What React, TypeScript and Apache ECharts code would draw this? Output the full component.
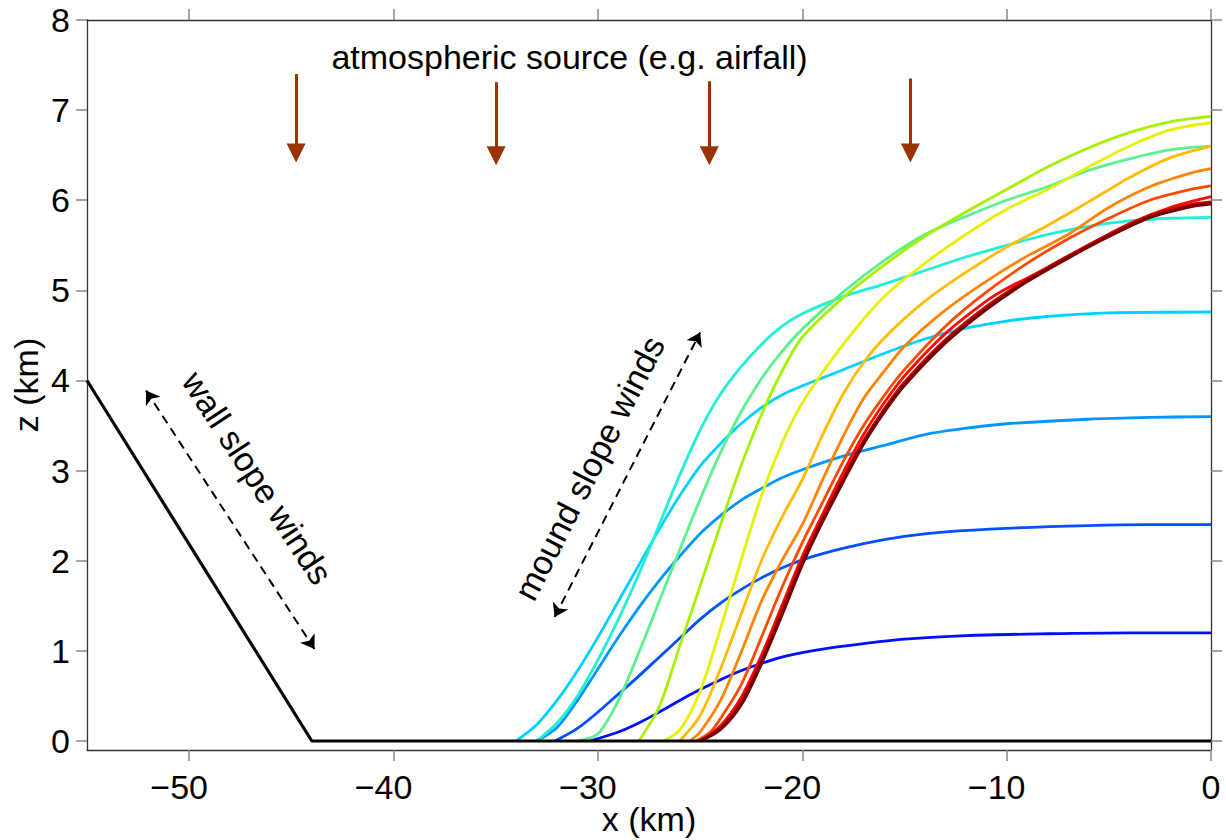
import React, { useEffect, useRef } from 'react';
import * as echarts from 'echarts';

const FONT = '"Liberation Sans", Arial, Helvetica, sans-serif';

// Axis ticks
const xTicks = [-50, -40, -30, -20, -10, 0];
const yTicks = [0, 1, 2, 3, 4, 5, 6, 7, 8];

// Terrain (t = 0): crater wall and floor
const terrain = [[-55, 4], [-44, 0], [0, 0]];

// Deposit profiles at successive times (x km, z km)
const c01 = [[-30.4, 0], [-29, 0.1], [-28, 0.2], [-27, 0.32], [-26, 0.45], [-25, 0.57], [-24, 0.68], [-23, 0.78], [-22, 0.86], [-21, 0.93], [-20, 0.98], [-19, 1.02], [-17, 1.08], [-15, 1.13], [-12, 1.17], [-8, 1.19], [-4, 1.2], [0, 1.2]];
const c02 = [[-32.1, 0], [-31, 0.14], [-30, 0.32], [-29, 0.52], [-28, 0.72], [-27, 0.93], [-26, 1.14], [-25, 1.35], [-24, 1.53], [-23, 1.68], [-22, 1.81], [-21, 1.92], [-20, 2.01], [-19, 2.08], [-17, 2.19], [-15, 2.27], [-13, 2.32], [-10, 2.36], [-6, 2.39], [-3, 2.4], [0, 2.4]];
const c03 = [[-33, 0], [-32, 0.15], [-31, 0.45], [-30, 0.8], [-29, 1.15], [-28, 1.48], [-27, 1.78], [-26, 2.05], [-25, 2.3], [-24, 2.5], [-23, 2.67], [-22, 2.8], [-21, 2.92], [-20, 3.01], [-18, 3.16], [-16, 3.28], [-14, 3.4], [-12, 3.47], [-10, 3.52], [-6, 3.57], [-3, 3.59], [0, 3.6]];
const c04 = [[-34, 0], [-33, 0.18], [-32, 0.45], [-31, 0.78], [-30, 1.15], [-29, 1.55], [-28, 1.95], [-27, 2.35], [-26, 2.72], [-25, 3.05], [-24, 3.3], [-23, 3.52], [-22, 3.7], [-21, 3.84], [-20, 3.94], [-18, 4.12], [-16, 4.3], [-14, 4.46], [-12, 4.58], [-10, 4.66], [-8, 4.71], [-5, 4.75], [0, 4.76]];
const c05 = [[-33, 0], [-32, 0.2], [-31, 0.5], [-30, 0.9], [-29, 1.35], [-28, 1.85], [-27, 2.4], [-26, 2.95], [-25, 3.45], [-24, 3.85], [-23, 4.15], [-22, 4.4], [-21, 4.6], [-20, 4.74], [-18, 4.93], [-16, 5.07], [-14, 5.22], [-12, 5.37], [-10, 5.5], [-8, 5.62], [-6, 5.71], [-4, 5.77], [-2, 5.8], [0, 5.81]];
const c06 = [[-31, 0], [-30, 0.08], [-29, 0.45], [-28, 0.98], [-27, 1.55], [-26, 2.12], [-25, 2.68], [-24, 3.2], [-23, 3.65], [-22, 4.02], [-21, 4.32], [-20, 4.57], [-18, 4.98], [-16, 5.33], [-14, 5.62], [-12, 5.82], [-10, 6.0], [-8, 6.15], [-6, 6.33], [-4, 6.46], [-2, 6.56], [0, 6.6]];
const c07 = [[-28, 0], [-27, 0.38], [-26, 1.05], [-25, 1.72], [-24, 2.4], [-23, 3.05], [-22, 3.62], [-21, 4.1], [-20, 4.48], [-18, 4.92], [-16, 5.28], [-14, 5.6], [-12, 5.87], [-10, 6.12], [-8, 6.37], [-6, 6.58], [-4, 6.75], [-2, 6.87], [0, 6.93]];
const c08 = [[-26.8, 0], [-26, 0.12], [-25, 0.55], [-24, 1.25], [-23, 2.0], [-22, 2.72], [-21, 3.3], [-20, 3.75], [-18, 4.4], [-16, 4.93], [-14, 5.3], [-12, 5.62], [-10, 5.9], [-8, 6.12], [-6, 6.37], [-4, 6.6], [-2, 6.78], [0, 6.86]];
const c09 = [[-26, 0], [-25, 0.28], [-24, 0.8], [-23, 1.4], [-22, 2.0], [-21, 2.48], [-20, 2.9], [-19, 3.4], [-18, 3.85], [-17, 4.2], [-16, 4.47], [-14, 4.88], [-12, 5.2], [-10, 5.48], [-8, 5.72], [-6, 5.98], [-4, 6.25], [-2, 6.47], [0, 6.6]];
const c10 = [[-25.5, 0], [-25, 0.1], [-24, 0.45], [-23, 0.98], [-22, 1.55], [-21, 2.0], [-20, 2.4], [-19, 2.9], [-18, 3.38], [-17, 3.8], [-16, 4.1], [-15, 4.38], [-13, 4.78], [-11, 5.1], [-9, 5.38], [-7, 5.62], [-5, 5.92], [-3, 6.15], [-1, 6.3], [0, 6.35]];
const c11 = [[-25.2, 0], [-24.5, 0.1], [-24, 0.25], [-23, 0.62], [-22, 1.15], [-21, 1.7], [-20, 2.2], [-19, 2.65], [-18, 3.1], [-17, 3.5], [-16, 3.83], [-15, 4.12], [-13, 4.6], [-11, 4.98], [-9, 5.3], [-7, 5.57], [-5, 5.8], [-3, 6.0], [-1, 6.12], [0, 6.16]];
const c12 = [[-25, 0], [-24, 0.17], [-23, 0.48], [-22, 0.95], [-21, 1.5], [-20, 2.05], [-19, 2.52], [-18, 2.98], [-17, 3.4], [-16, 3.75], [-15, 4.05], [-13, 4.52], [-11, 4.88], [-10, 5.02], [-8, 5.25], [-6, 5.5], [-4, 5.74], [-2, 5.92], [0, 6.04]];
const c13 = [[-25, 0], [-24, 0.15], [-23, 0.44], [-22, 0.9], [-21, 1.45], [-20, 2.0], [-19, 2.47], [-18, 2.92], [-17, 3.33], [-16, 3.68], [-15, 3.98], [-13, 4.45], [-11, 4.82], [-9, 5.12], [-7, 5.38], [-5, 5.62], [-3, 5.83], [-1, 5.95], [0, 5.98]];
const c14 = [[-25, 0], [-24, 0.13], [-23, 0.4], [-22, 0.86], [-21, 1.4], [-20, 1.96], [-19, 2.44], [-18, 2.88], [-17, 3.3], [-16, 3.65], [-15, 3.95], [-13, 4.42], [-11, 4.79], [-9, 5.1], [-7, 5.36], [-5, 5.6], [-3, 5.81], [-1, 5.93], [0, 5.96]];

const curveData = [c01, c02, c03, c04, c05, c06, c07, c08, c09, c10, c11, c12, c13, c14];
const curveColors = ['#0010ff', '#0050ff', '#0095ff', '#00d2ff', '#22f0d6', '#5cf090', '#a6f000', '#e6f200', '#ffbc00', '#ff8400', '#ff4a00', '#ff0a00', '#c80000', '#780000'];
const curveWidths = [2.8, 2.8, 2.8, 2.8, 2.8, 2.8, 2.8, 2.8, 2.8, 2.8, 2.8, 2.8, 3, 3.4];

// Atmospheric source arrows (x, top, head end)
const sourceX = [-44.77, -34.98, -24.55, -14.71];
const sourceTop = [7.4, 7.31, 7.32, 7.35];
const sourceEnd = [6.525, 6.495, 6.495, 6.525];

// Wind arrows (double-headed, dashed)
const wallWind = [[-52.11, 3.888], [-43.87, 1.021]];
const moundWind = [[-32.12, 1.375], [-25.0, 4.532]];

// Annotations
const notes = [
  { text: 'atmospheric source (e.g. airfall)', pos: [-31.39, 7.594], rotate: 0 },
  { text: 'wall slope winds', pos: [-46.66, 2.92], rotate: -57 },
  { text: 'mound slope winds', pos: [-30.42, 3.03], rotate: 63 },
];

const axisLineStyle = { color: '#333', width: 1.3 };
const tickStyle = { color: '#888', width: 1.5 };

function xFormatter(v: number) {
  if (v < 0) return `{n|\u2212${-v}}{s| }`;
  return `{n|${v}}`;
}

const richX = {
  n: { fontSize: 34, fontFamily: FONT, color: '#000' },
  s: { fontSize: 34, fontFamily: FONT, width: 20 },
};

function buildOption() {
  const lineSeries = curveData.map((d, i) => ({
    type: 'line',
    name: 'profile' + (i + 1),
    data: d,
    showSymbol: false,
    symbol: 'none',
    smooth: 0.3,
    silent: true,
    lineStyle: { color: curveColors[i], width: curveWidths[i] },
    itemStyle: { color: curveColors[i] },
    z: 2,
  }));

  return {
    animation: false,
    backgroundColor: '#fff',
    grid: { left: 87, top: 20, right: 15, bottom: 90, containLabel: false, outerBoundsMode: 'none' },
    xAxis: [
      {
        type: 'value', min: -55, max: 0, position: 'bottom',
        axisLine: { show: true, onZero: false, lineStyle: axisLineStyle },
        axisTick: { show: true, customValues: xTicks, length: 11, lineStyle: tickStyle },
        axisLabel: { show: true, customValues: xTicks, margin: 20, formatter: xFormatter, rich: richX, fontSize: 34, fontFamily: FONT, color: '#000' },
        splitLine: { show: false },
        name: 'x (km)', nameLocation: 'middle', nameGap: 52, nameMoveOverlap: false,
        nameTextStyle: { fontSize: 34, fontFamily: FONT, color: '#000' },
      },
      {
        type: 'value', min: -55, max: 0, position: 'top',
        axisLine: { show: true, onZero: false, lineStyle: axisLineStyle },
        axisTick: { show: true, customValues: xTicks, length: 11, lineStyle: tickStyle },
        axisLabel: { show: false },
        splitLine: { show: false },
      },
    ],
    yAxis: [
      {
        type: 'value', min: -0.1, max: 8, position: 'left',
        axisLine: { show: true, onZero: false, lineStyle: axisLineStyle },
        axisTick: { show: true, customValues: yTicks, length: 11, lineStyle: tickStyle },
        axisLabel: { show: true, customValues: yTicks, margin: 17, fontSize: 34, fontFamily: FONT, color: '#000' },
        splitLine: { show: false },
        name: 'z (km)', nameLocation: 'middle', nameGap: 44, nameMoveOverlap: false,
        nameTextStyle: { fontSize: 34, fontFamily: FONT, color: '#000' },
      },
      {
        type: 'value', min: -0.1, max: 8, position: 'right',
        axisLine: { show: true, onZero: false, lineStyle: axisLineStyle },
        axisTick: { show: true, customValues: yTicks, length: 11, lineStyle: tickStyle },
        axisLabel: { show: false },
        splitLine: { show: false },
      },
    ],
    series: [
      ...lineSeries,
      {
        type: 'line',
        name: 'terrain',
        data: terrain,
        showSymbol: false,
        symbol: 'none',
        silent: true,
        lineStyle: { color: '#0a0404', width: 3.2 },
        z: 3,
        markLine: {
          silent: true,
          symbol: ['none', 'triangle'],
          symbolSize: 19,
          label: { show: false },
          emphasis: { disabled: true },
          lineStyle: { color: '#993300', width: 3, type: 'solid' },
          data: sourceX.map((x, i) => [{ coord: [x, sourceTop[i]] }, { coord: [x, sourceEnd[i]] }]),
        },
      },
      {
        type: 'line',
        name: 'winds',
        data: [],
        silent: true,
        z: 4,
        markLine: {
          silent: true,
          symbol: ['arrow', 'arrow'],
          symbolSize: 13,
          label: { show: false },
          emphasis: { disabled: true },
          lineStyle: { color: '#000', width: 2, type: [9, 6] },
          data: [
            [{ coord: wallWind[0] }, { coord: wallWind[1] }],
            [{ coord: moundWind[0] }, { coord: moundWind[1] }],
          ],
        },
      },
      {
        type: 'scatter',
        name: 'notes',
        silent: true,
        symbolSize: 1,
        itemStyle: { color: '#fff', opacity: 0 },
        z: 5,
        data: notes.map((n) => ({
          value: n.pos,
          label: {
            show: true,
            formatter: n.text,
            rotate: n.rotate,
            position: 'inside',
            align: 'center',
            verticalAlign: 'middle',
            fontSize: 34,
            fontFamily: FONT,
            color: '#000',
            opacity: 1,
            textBorderWidth: 0,
            textBorderColor: 'transparent',
          },
        })),
      },
    ],
  };
}

export default function App() {
  const ref = useRef<HTMLDivElement>(null);
  useEffect(() => {
    document.body.style.margin = '0';
    const chart = echarts.init(ref.current as HTMLDivElement, null, { renderer: 'svg' });
    chart.setOption(buildOption() as any);
    return () => chart.dispose();
  }, []);
  return <div ref={ref} style={{ position: 'absolute', left: 0, top: 0, width: 1226, height: 840 }} />;
}
